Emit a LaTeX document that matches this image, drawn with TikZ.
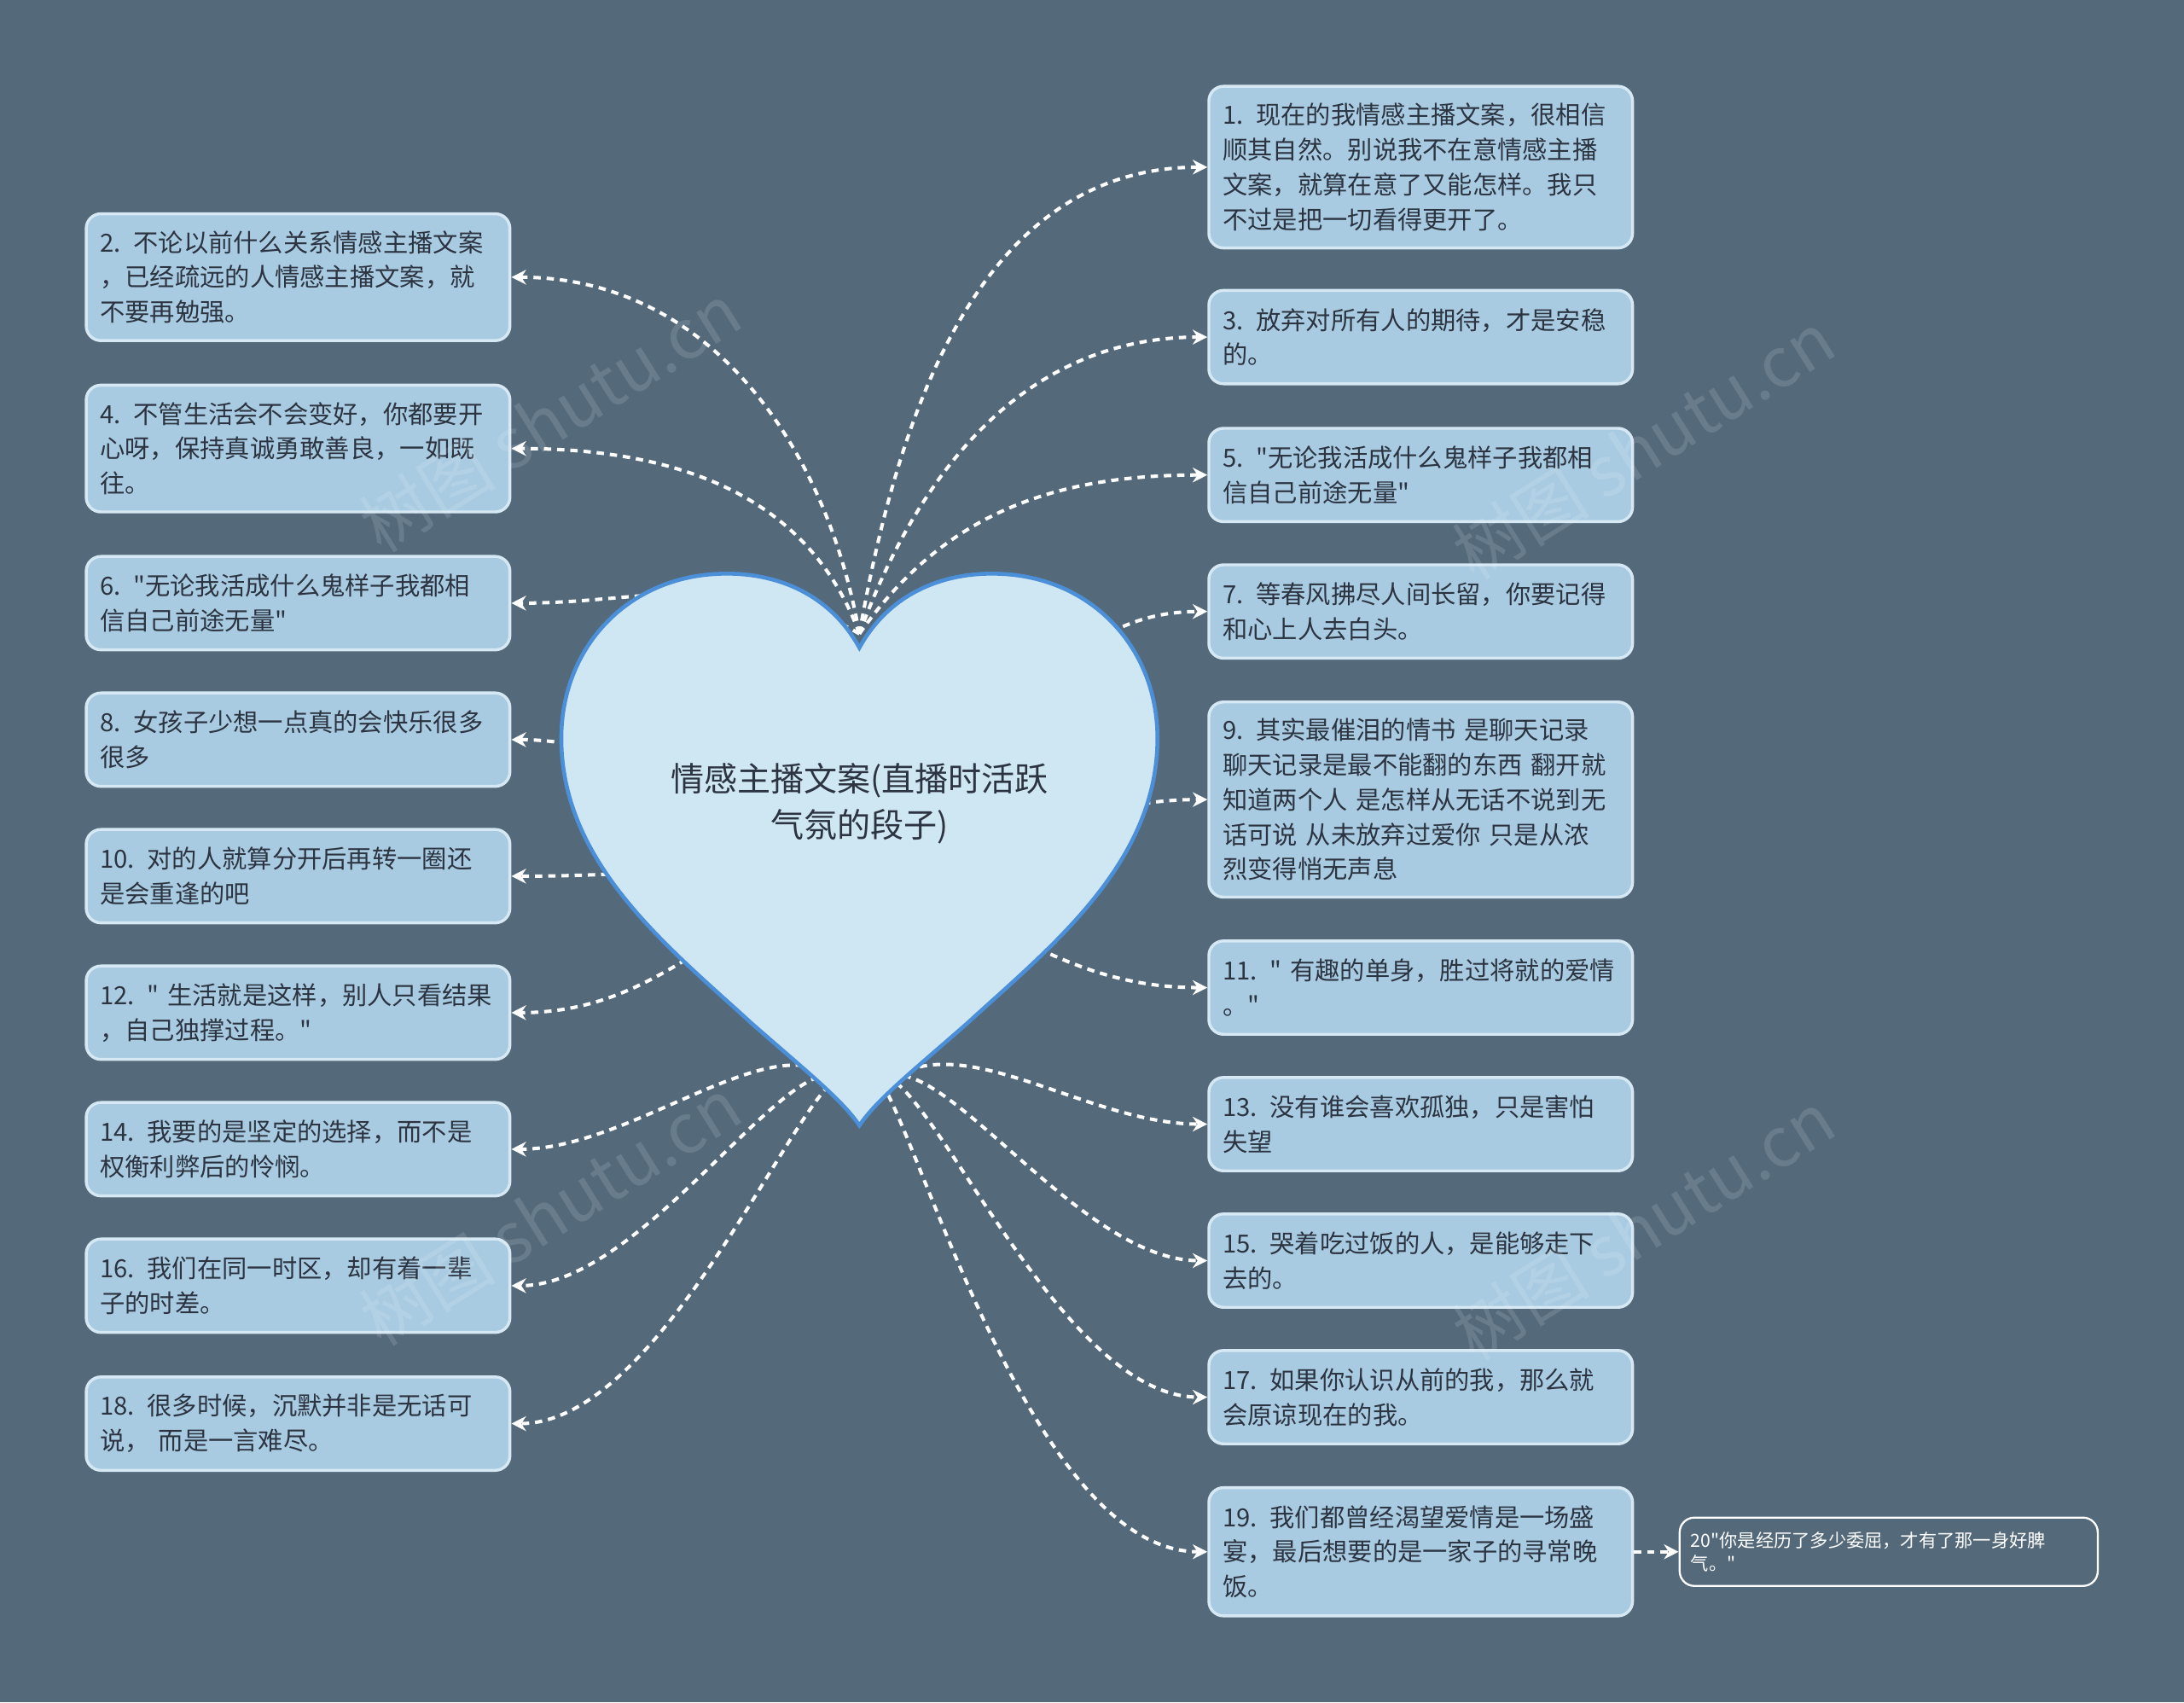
\documentclass[tikz,border=0pt]{standalone}
\usepackage{fontspec}
\newfontfamily\cjk{Noto Sans CJK SC}
\usetikzlibrary{arrows.meta}
\definecolor{bg}{HTML}{546A7B}
\definecolor{boxfill}{HTML}{A9CBE2}
\definecolor{boxline}{HTML}{D6E8F3}
\definecolor{heartfill}{HTML}{CFE6F3}
\definecolor{heartline}{HTML}{4A8FD8}
\definecolor{txt}{HTML}{2B3440}
\tikzset{
 bx/.style={draw=boxline,fill=boxfill,rounded corners=3pt,line width=0.6pt,minimum width=3.04cm,text width=2.84cm,inner sep=0.1cm,align=left,font=\cjk\fontsize{5.1pt}{7.1pt}\selectfont,text=txt},
 con/.style={draw=white,dashed,line width=0.7pt,dash pattern=on 1.5pt off 1.2pt,-{Stealth[length=3pt,width=3pt]}},
 wm/.style={text=white,opacity=0.12,font=\cjk\fontsize{14pt}{14pt}\selectfont,rotate=32}
}
\begin{document}
\begin{tikzpicture}[x=0.01cm,y=-0.01cm]
\fill[bg] (0,0) rectangle (1568,1222);
\useasboundingbox (0,0) rectangle (1568,1222);
% left boxes
\node[bx,minimum height=0.91cm] (b2) at (214,199) {2. 不论以前什么关系情感主播文案\\，已经疏远的人情感主播文案，就\\不要再勉强。};
\node[bx,minimum height=0.91cm] (b4) at (214,322) {4. 不管生活会不会变好，你都要开\\心呀，保持真诚勇敢善良，一如既\\往。};
\node[bx,minimum height=0.67cm] (b6) at (214,433) {6. "无论我活成什么鬼样子我都相\\信自己前途无量"};
\node[bx,minimum height=0.67cm] (b8) at (214,531) {8. 女孩子少想一点真的会快乐很多\\很多};
\node[bx,minimum height=0.67cm] (b10) at (214,629) {10. 对的人就算分开后再转一圈还\\是会重逢的吧};
\node[bx,minimum height=0.67cm] (b12) at (214,727) {12. " 生活就是这样，别人只看结果\\，自己独撑过程。"};
\node[bx,minimum height=0.67cm] (b14) at (214,825) {14. 我要的是坚定的选择，而不是\\权衡利弊后的怜悯。};
\node[bx,minimum height=0.67cm] (b16) at (214,923) {16. 我们在同一时区，却有着一辈\\子的时差。};
\node[bx,minimum height=0.67cm] (b18) at (214,1022) {18. 很多时候，沉默并非是无话可\\说， 而是一言难尽。};
% right boxes
\node[bx,minimum height=1.16cm] (b1) at (1020,120) {1. 现在的我情感主播文案，很相信\\顺其自然。别说我不在意情感主播\\文案，就算在意了又能怎样。我只\\不过是把一切看得更开了。};
\node[bx,minimum height=0.67cm] (b3) at (1020,242) {3. 放弃对所有人的期待，才是安稳\\的。};
\node[bx,minimum height=0.67cm] (b5) at (1020,341) {5. "无论我活成什么鬼样子我都相\\信自己前途无量"};
\node[bx,minimum height=0.67cm] (b7) at (1020,439) {7. 等春风拂尽人间长留，你要记得\\和心上人去白头。};
\node[bx,minimum height=1.40cm] (b9) at (1020,574) {9. 其实最催泪的情书 是聊天记录\\聊天记录是最不能翻的东西 翻开就\\知道两个人 是怎样从无话不说到无\\话可说 从未放弃过爱你 只是从浓\\烈变得悄无声息};
\node[bx,minimum height=0.67cm] (b11) at (1020,709) {11. " 有趣的单身，胜过将就的爱情\\。"};
\node[bx,minimum height=0.67cm] (b13) at (1020,807) {13. 没有谁会喜欢孤独，只是害怕\\失望};
\node[bx,minimum height=0.67cm] (b15) at (1020,905) {15. 哭着吃过饭的人，是能够走下\\去的。};
\node[bx,minimum height=0.67cm] (b17) at (1020,1003) {17. 如果你认识从前的我，那么就\\会原谅现在的我。};
\node[bx,minimum height=0.92cm] (b19) at (1020,1114) {19. 我们都曾经渴望爱情是一场盛\\宴，最后想要的是一家子的寻常晚\\饭。};
\node[draw=white,fill=bg,rounded corners=3pt,minimum width=3.0cm,minimum height=0.49cm,text width=2.84cm,inner sep=0.08cm,align=left,font=\cjk\fontsize{3.7pt}{4.6pt}\selectfont,text=white] (b20) at (1356,1114) {20"你是经历了多少委屈，才有了那一身好脾\\气。"};
% connectors
\coordinate (top) at (617,455);
\coordinate (mid) at (617,620);
\coordinate (bot) at (617,800);
\draw[con] (top) to[out=100,in=0] (b2.east);
\draw[con] (top) to[out=110,in=0] (b4.east);
\draw[con] (top) to[out=150,in=0] (b6.east);
\draw[con] (mid) to[out=170,in=0] (b8.east);
\draw[con] (mid) to[out=180,in=0] (b10.east);
\draw[con] (mid) to[out=200,in=0] (b12.east);
\draw[con] (bot) to[out=110,in=0] (b14.east);
\draw[con] (bot) to[out=100,in=0] (b16.east);
\draw[con] (bot) to[out=92,in=0] (b18.east);
\draw[con] (top) to[out=80,in=180] (b1.west);
\draw[con] (top) to[out=70,in=180] (b3.west);
\draw[con] (top) to[out=55,in=180] (b5.west);
\draw[con] (mid) to[out=30,in=180] (b7.west);
\draw[con] (mid) to[out=0,in=180] (b9.west);
\draw[con] (mid) to[out=-20,in=180] (b11.west);
\draw[con] (bot) to[out=60,in=180] (b13.west);
\draw[con] (bot) to[out=75,in=180] (b15.west);
\draw[con] (bot) to[out=82,in=180] (b17.west);
\draw[con] (bot) to[out=88,in=180] (b19.west);
\draw[con] (b19.east) -- (b20.west);
% heart
\draw[fill=heartfill,draw=heartline,line width=0.8pt] (617,465)
 .. controls (595,425) and (555,410) .. (515,412)
 .. controls (450,415) and (403,465) .. (403,530)
 .. controls (403,620) and (480,680) .. (540,735)
 .. controls (580,770) and (605,790) .. (617,808)
 .. controls (629,790) and (654,770) .. (694,735)
 .. controls (754,680) and (831,620) .. (831,530)
 .. controls (831,465) and (784,415) .. (719,412)
 .. controls (679,410) and (639,425) .. (617,465) -- cycle;
\node[align=center,font=\cjk\fontsize{6.8pt}{9.4pt}\selectfont,text=txt] (c) at (617,577) {情感主播文案(直播时活跃\\气氛的段子)};
% watermarks
\node[wm] (w1) at (395,300) {树图 shutu.cn};
\node[wm] (w2) at (1180,320) {树图 shutu.cn};
\node[wm] (w3) at (395,870) {树图 shutu.cn};
\node[wm] (w4) at (1180,880) {树图 shutu.cn};
\end{tikzpicture}
\end{document}
